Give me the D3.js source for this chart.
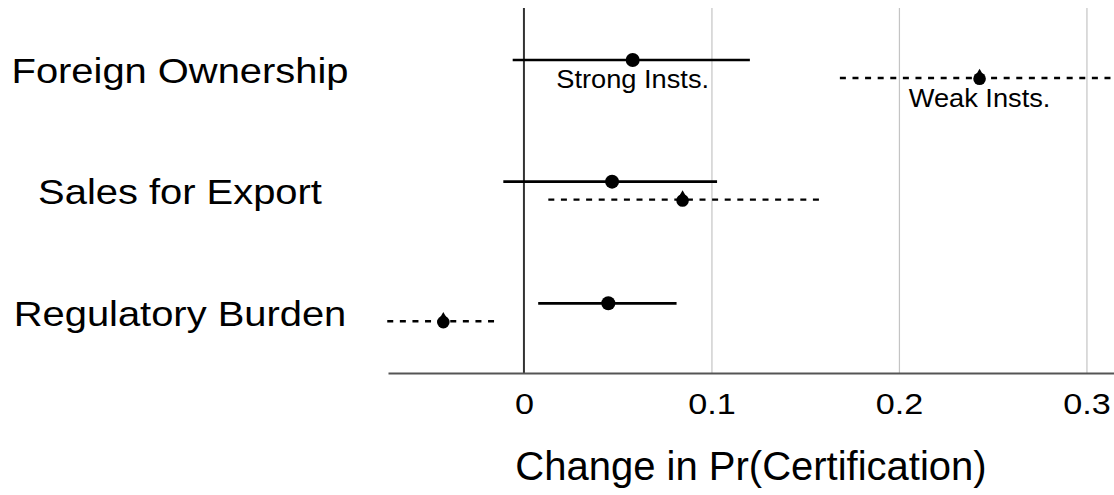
<!DOCTYPE html>
<html>
<head>
<meta charset="utf-8">
<script src="https://cdn.jsdelivr.net/npm/d3@7"></script>
<style>
  body { margin: 0; background: #fff; }
  svg { display: block; font-family: "Liberation Sans", Arial, sans-serif; }
</style>
</head>
<body>
<svg id="chart"></svg>
<script>

// coefficient plot data
var categories = ['Foreign Ownership', 'Sales for Export', 'Regulatory Burden'];

var strongEst = [0.058, 0.047, 0.045];
var strongLo  = [-0.006, -0.011, 0.0076];
var strongHi  = [0.1205, 0.103, 0.0814];

var weakEst = [0.243, 0.0846, -0.043];
var weakLo  = [0.1685, 0.013, -0.0729];
var weakHi  = [0.318, 0.1588, -0.0132];

var tickValues = [0, 0.1, 0.2, 0.3];
var tickLabels = ['0', '0.1', '0.2', '0.3'];
var xAxisLabel = 'Change in Pr(Certification)';
var strongLabel = 'Strong Insts.';
var weakLabel = 'Weak Insts.';

var width = 1114, height = 495;
var plotLeft = 388, plotRight = 1114, plotTop = 8, axisY = 373;
var rowOffset = 9; // strong above, weak below the row centre
var stretch = 1.14; // text in the original is a bit wide

var svg = d3.select('#chart')
    .attr('width', width)
    .attr('height', height);

svg.append('rect')
    .attr('width', width)
    .attr('height', height)
    .attr('fill', '#fff');

// scales
var xScale = d3.scaleLinear()
    .domain([-0.0725, 0.3147])
    .range([plotLeft, plotRight]);

var yScale = d3.scalePoint()
    .domain(categories)
    .range([69, 312.3]);

// gridlines (not at zero, zero gets its own darker line)
tickValues.filter(d => d !== 0).forEach(function(t){
    svg.append('line')
        .attr('x1', xScale(t) + 0.5)
        .attr('x2', xScale(t) + 0.5)
        .attr('y1', plotTop)
        .attr('y2', axisY)
        .attr('stroke', '#c4c4c4')
        .attr('stroke-width', 1.2);
});

// zero line
svg.append('line')
    .attr('x1', xScale(0))
    .attr('x2', xScale(0))
    .attr('y1', plotTop)
    .attr('y2', axisY)
    .attr('stroke', '#333')
    .attr('stroke-width', 2);

// x axis
var xAxis = d3.axisBottom(xScale)
    .tickValues(tickValues)
    .tickSize(0)
    .tickPadding(0)
    .tickFormat((d, i) => tickLabels[i]);

var xAxisG = svg.append('g')
    .attr('transform', `translate(0,${axisY})`)
    .call(xAxis);

xAxisG.select('.domain')
    .attr('stroke', '#555')
    .attr('stroke-width', 2);

xAxisG.selectAll('.tick text')
    .attr('y', 41)
    .attr('dy', 0)
    .attr('fill', '#000')
    .attr('transform', `scale(${stretch},1)`)
    .style('font-size', '30px')
    .style('font-family', '"Liberation Sans", Arial, sans-serif');

// axis title
svg.append('text')
    .attr('x', (plotLeft + plotRight) / 2)
    .attr('y', 480)
    .attr('text-anchor', 'middle')
    .style('font-size', '40px')
    .text(xAxisLabel);

// row labels
categories.forEach(function(c){
    svg.append('text')
        .attr('transform', `translate(180,${yScale(c) + 13.5}) scale(${stretch},1)`)
        .attr('text-anchor', 'middle')
        .style('font-size', '35px')
        .text(c);
});

// strong institutions: solid line + round dot
categories.forEach(function(c, i){
    var y = yScale(c) - rowOffset;
    svg.append('line')
        .attr('x1', xScale(strongLo[i]))
        .attr('x2', xScale(strongHi[i]))
        .attr('y1', y)
        .attr('y2', y)
        .attr('stroke', '#000')
        .attr('stroke-width', 2.7);
    svg.append('circle')
        .attr('cx', xScale(strongEst[i]))
        .attr('cy', y)
        .attr('r', 7)
        .attr('fill', '#000');
});

// weak institutions: dashed line + blunt drop marker
var dropTop = d3.symbol().type(d3.symbolTriangle).size(55);

categories.forEach(function(c, i){
    var y = yScale(c) + rowOffset;
    svg.append('line')
        .attr('x1', xScale(weakLo[i]))
        .attr('x2', xScale(weakHi[i]))
        .attr('y1', y)
        .attr('y2', y)
        .attr('stroke', '#000')
        .attr('stroke-width', 2.4)
        .attr('stroke-dasharray', '6,6.6');
    var cx = xScale(weakEst[i]);
    svg.append('circle')
        .attr('cx', cx)
        .attr('cy', y + 0.8)
        .attr('r', 6.3)
        .attr('fill', '#000');
    svg.append('path')
        .attr('d', dropTop())
        .attr('transform', `translate(${cx},${y - 2.8})`)
        .attr('fill', '#000');
});

// series labels under the foreign ownership estimates
var firstRow = yScale(categories[0]);

svg.append('text')
    .attr('transform', `translate(${xScale(strongEst[0])},${firstRow - rowOffset + 28}) scale(1.09,1)`)
    .attr('text-anchor', 'middle')
    .style('font-size', '25px')
    .text(strongLabel);

svg.append('text')
    .attr('transform', `translate(${xScale(weakEst[0])},${firstRow + rowOffset + 29}) scale(1.09,1)`)
    .attr('text-anchor', 'middle')
    .style('font-size', '25px')
    .text(weakLabel);

</script>
</body>
</html>
